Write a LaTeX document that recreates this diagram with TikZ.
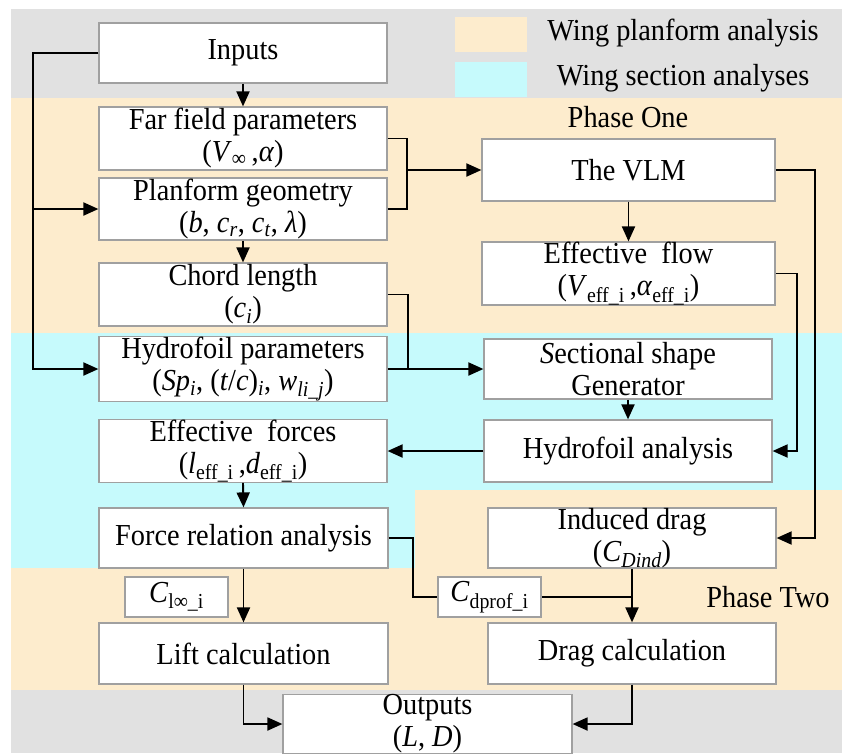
\documentclass[tikz,border=0pt]{standalone}
\usepackage{fontspec}
\setmainfont{Liberation Serif}[FakeStretch=0.93]
\usetikzlibrary{arrows.meta}
\definecolor{bggray}{RGB}{225,225,225}
\definecolor{bgorange}{RGB}{253,236,205}
\definecolor{bgcyan}{RGB}{198,250,252}
\definecolor{boxline}{RGB}{160,160,160}
\newcommand{\sbs}[1]{\textsubscript{#1}}
\tikzset{
  boxnode/.style={draw=boxline, fill=white, line width=1.2pt, align=center, inner sep=0pt,
    font=\fontsize{30.5}{32}\selectfont, minimum width=288pt, minimum height=61pt},
  labnode/.style={draw=boxline, fill=white, line width=1.2pt, inner sep=0pt,
    font=\fontsize{30.5}{32}\selectfont, minimum width=103pt, minimum height=40pt},
  txt/.style={font=\fontsize{30.5}{32}\selectfont, inner sep=0pt},
  arr/.style={line width=1.9pt, -{Triangle[length=15pt,width=13pt]}},
  ln/.style={line width=1.9pt},
}
\begin{document}
\begin{tikzpicture}[x=1pt,y=-1pt]
\useasboundingbox (0,0) rectangle (842,753);
% backgrounds
\fill[bggray] (11,9) rectangle (842,753);
\fill[bgorange] (11,98) rectangle (842,333);
\fill[bgcyan] (11,333) rectangle (842,490);
\fill[bgcyan] (11,490) rectangle (415,568);
\fill[bgorange] (415,490) rectangle (842,568);
\fill[bgorange] (11,568) rectangle (842,690);
% legend
\node[fill=bgorange, minimum width=72pt, minimum height=35pt, inner sep=0pt] (legA) at (491,34.5) {};
\node[fill=bgcyan, minimum width=72pt, minimum height=35pt, inner sep=0pt] (legB) at (491,79.5) {};
\node[txt] (legAt) at (683,33) {Wing planform analysis};
\node[txt] (legBt) at (683,78) {Wing section analyses};
\node[txt] (ph1) at (628,117) {Phase One};
\node[txt] (ph2) at (768,597) {Phase Two};
% left column
\node[boxnode, minimum height=60pt] (inputs) at (243,53) {Inputs};
\node[boxnode, minimum height=63pt] (far) at (243,138.5) {Far field parameters\\(\textit{V}\sbs{∞}\,,\textit{α})};
\node[boxnode, minimum height=62pt] (plan) at (243,209) {Planform geometry\\(\textit{b}, \textit{c}\sbs{\textit{r}}, \textit{c}\sbs{\textit{t}}, \textit{λ})};
\node[boxnode, minimum height=63pt] (chord) at (243,294.5) {Chord length\\(\textit{c}\sbs{\textit{i}})};
\node[boxnode, minimum height=60pt] (hparams) at (243,369) {Hydrofoil parameters\\(\textit{Sp}\sbs{\textit{i}}, (\textit{t}/\textit{c})\sbs{\textit{i}}, \textit{w}\sbs{\textit{li\_j}})};
\node[boxnode, minimum height=62pt] (effforces) at (243,451) {Effective\ \ forces\\(\textit{l}\sbs{eff\_i}\,,\textit{d}\sbs{eff\_i})};
\node[boxnode, minimum width=289pt, minimum height=60pt] (force) at (243.5,538) {Force relation analysis};
\node[labnode] (clinf) at (176.5,597) {\textit{C}\sbs{l∞\_i}};
\node[boxnode, minimum width=289pt, minimum height=61pt] (lift) at (243.5,653.5) {Lift calculation};
\node[boxnode, minimum width=289pt, minimum height=58pt] (outputs) at (427.5,724) {Outputs\\(\textit{L}, \textit{D})};
% right column
\node[boxnode, minimum width=293pt, minimum height=62pt] (vlm) at (628.5,170) {The VLM};
\node[boxnode, minimum width=293pt, minimum height=63pt] (effflow) at (628.5,273.5) {Effective\ \ flow\\(\textit{V}\sbs{eff\_i}\,,\textit{α}\sbs{eff\_i})};
\node[boxnode, minimum height=60pt] (sect) at (628,369) {\textit{S}ectional shape\\Generator};
\node[boxnode, minimum height=62pt] (hanalysis) at (628,451) {Hydrofoil analysis};
\node[boxnode, minimum height=60pt] (induced) at (632,538) {Induced drag\\(\textit{C}\sbs{\textit{Dind}})};
\node[boxnode, minimum height=61pt] (drag) at (632,653.5) {Drag calculation};
% coordinates
\coordinate (L1) at (33,53);
\coordinate (L2) at (33,369);
\coordinate (L3) at (33,209);
\coordinate (bA) at (407,170);
\coordinate (bB) at (408,369);
\coordinate (r1) at (815,538);
\coordinate (r2) at (797,451);
\coordinate (f1) at (413,597);
\coordinate (j1) at (632,597);
% connectors
\draw[arr] (inputs.west) -- (L1) -- (L2) -- (hparams.west);
\draw[arr] (L3) -- (plan.west);
\draw[arr] (inputs.south) -- (far.north);
\draw[ln] (far.east) -| (bA);
\draw[ln] (plan.east) -| (bA);
\draw[arr] (bA) -- (vlm.west);
\draw[arr] (plan.south) -- (chord.north);
\draw[ln] (chord.east) -| (bB);
\draw[arr] (hparams.east) -- (sect.west);
\draw[arr] (vlm.south) -- (effflow.north);
\draw[arr] (vlm.east) -| (r1) -- (induced.east);
\draw[arr] (effflow.east) -| (r2) -- (hanalysis.east);
\draw[arr] (sect.south) -- (hanalysis.north);
\draw[arr] (hanalysis.west) -- (effforces.east);
\draw[arr] (effforces.south) -- (force.north);
\draw[arr] (force.south) -- (lift.north);
\draw[ln] (force.east) -| (f1) -- (j1);
\draw[arr] (induced.south) -- (drag.north);
\node[labnode] (cdprof) at (489.5,597) {\textit{C}\sbs{dprof\_i}};
\draw[arr] (lift.south) |- (outputs.west);
\draw[arr] (drag.south) |- (outputs.east);
\end{tikzpicture}
\end{document}
